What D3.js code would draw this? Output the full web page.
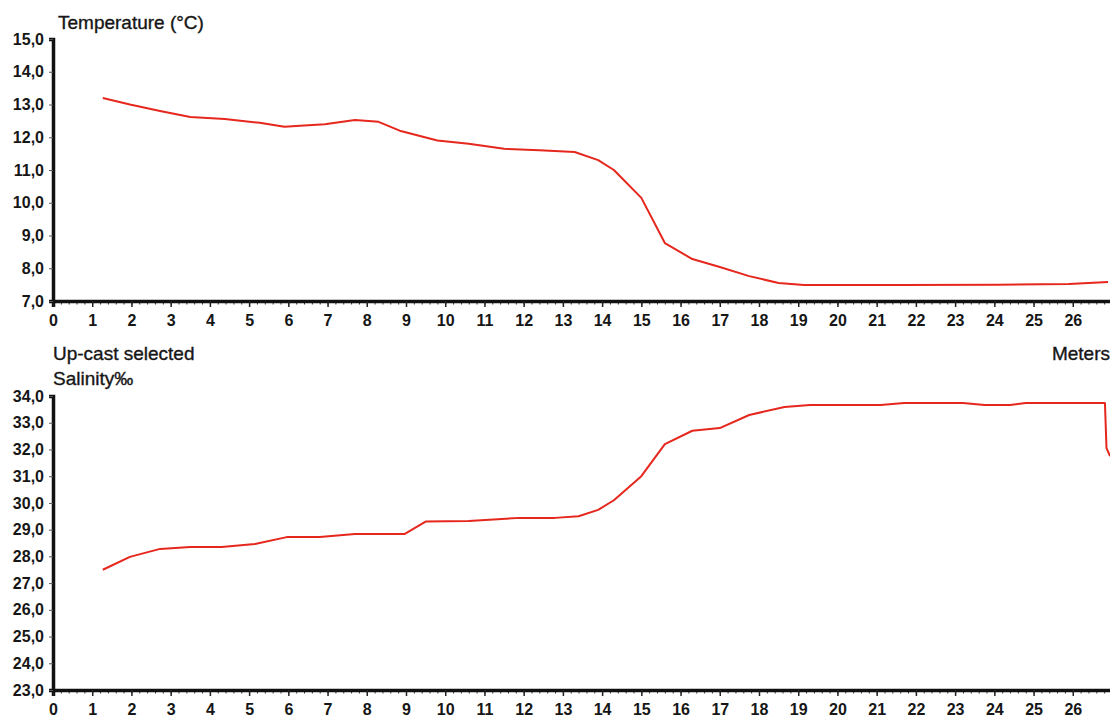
<!DOCTYPE html>
<html>
<head>
<meta charset="utf-8">
<script src="https://cdn.jsdelivr.net/npm/d3@7"></script>
<style>
  body { margin: 0; background: #fff; }
  svg { display: block; font-family: "Liberation Sans", Arial, sans-serif; }
  .axis text { font-size: 16px; font-weight: bold; fill: #161616; }
  .label { font-size: 19px; fill: #161616; stroke: #161616; stroke-width: 0.35px; }
</style>
</head>
<body>
<script>
(function () {

    // depth (m) vs temperature
    var tempDepth = [1.27, 1.96, 2.73, 3.5, 4.38, 5.27, 5.9, 6.3, 6.93, 7.7, 8.3, 8.84, 9.8, 10.6, 11.5, 12.4, 13.3, 13.9, 14.3, 15.0, 15.6, 16.3, 17.0, 17.75, 18.5, 19.15, 21.6, 24.1, 25.9, 26.9];
    var tempValues = [13.2, 13.0, 12.8, 12.62, 12.56, 12.44, 12.32, 12.35, 12.4, 12.53, 12.47, 12.2, 11.9, 11.8, 11.65, 11.6, 11.55, 11.3, 11.0, 10.15, 8.77, 8.28, 8.04, 7.76, 7.55, 7.49, 7.49, 7.5, 7.52, 7.58];

    // depth (m) vs salinity
    var salDepth = [1.27, 1.96, 2.73, 3.5, 4.3, 5.15, 5.96, 6.8, 7.7, 8.97, 9.5, 10.6, 11.9, 12.8, 13.4, 13.9, 14.3, 15.0, 15.6, 16.3, 17.0, 17.75, 18.65, 19.3, 21.1, 21.7, 23.2, 23.75, 24.4, 24.8, 26.82, 26.86, 26.95];
    var salValues = [27.5, 27.98, 28.28, 28.35, 28.35, 28.46, 28.72, 28.72, 28.84, 28.84, 29.3, 29.32, 29.44, 29.44, 29.5, 29.74, 30.1, 31.0, 32.2, 32.7, 32.8, 33.29, 33.59, 33.66, 33.66, 33.74, 33.74, 33.66, 33.66, 33.74, 33.74, 32.05, 31.75];

    var depthTicks = d3.range(0, 27, 1);
    var tempTicks = [7, 8, 9, 10, 11, 12, 13, 14, 15];
    var salTicks = [23, 24, 25, 26, 27, 28, 29, 30, 31, 32, 33, 34];

    var width = 1110, height = 717;
    var left = 53, right = 1112;

    var svg = d3.select("body").append("svg")
        .attr("width", width)
        .attr("height", height);

    var x = d3.scaleLinear().domain([0, 27]).range([left, right]);
    var fmt = function (d) { return d3.format(".1f")(d).replace(".", ","); };

    function panel(id, depth, values, yDomain, yRange, yTicks) {
        var y = d3.scaleLinear().domain(yDomain).range(yRange);
        var g = svg.append("g").attr("id", id);

        g.append("defs").append("clipPath").attr("id", id + "clip")
            .append("rect")
            .attr("x", left).attr("y", yRange[1] - 5)
            .attr("width", width - left).attr("height", yRange[0] - yRange[1] + 5);

        // minor ticks on depth axis
        g.append("g")
            .attr("class", "axis")
            .attr("transform", "translate(0," + yRange[0] + ")")
            .call(d3.axisBottom(x).tickValues(d3.range(0, 27.01, 0.2)).tickSize(3.5).tickFormat(""))
            .call(function (s) { s.select(".domain").remove(); s.selectAll("line").attr("stroke", "#333"); });

        // major ticks on depth axis
        var xa = g.append("g")
            .attr("class", "axis")
            .attr("transform", "translate(0," + yRange[0] + ")")
            .call(d3.axisBottom(x).tickValues(depthTicks).tickSize(6).tickPadding(8).tickFormat(d3.format("d")));
        xa.select(".domain").attr("stroke", "#111").attr("stroke-width", 3.5);
        xa.selectAll("line").attr("stroke", "#222").attr("stroke-width", 1.5);

        var ya = g.append("g")
            .attr("class", "axis")
            .attr("transform", "translate(" + left + ",0)")
            .call(d3.axisLeft(y).tickValues(yTicks).tickSize(4).tickPadding(5).tickFormat(fmt));
        ya.select(".domain").attr("stroke", "#111").attr("stroke-width", 3.5);
        ya.selectAll("line").attr("stroke", "#555");

        var line = d3.line()
            .x(function (d, i) { return x(depth[i]); })
            .y(function (d) { return y(d); });

        g.append("path")
            .datum(values)
            .attr("clip-path", "url(#" + id + "clip)")
            .attr("fill", "none")
            .attr("stroke", "#e5271d")
            .attr("stroke-width", 2)
            .attr("stroke-linejoin", "round")
            .attr("d", line);
    }

    panel("temp", tempDepth, tempValues, [7, 15], [301, 39], tempTicks);
    panel("sal", salDepth, salValues, [23, 34], [690, 396], salTicks);

    svg.append("text").attr("class", "label").attr("x", 58).attr("y", 29).text("Temperature (°C)");
    svg.append("text").attr("class", "label").attr("x", 53).attr("y", 360).text("Up-cast selected");
    svg.append("text").attr("class", "label").attr("x", 53).attr("y", 385).text("Salinity‰");
    svg.append("text").attr("class", "label").attr("x", 1110).attr("y", 360)
        .attr("text-anchor", "end").text("Meters");

})();
</script>
</body>
</html>
